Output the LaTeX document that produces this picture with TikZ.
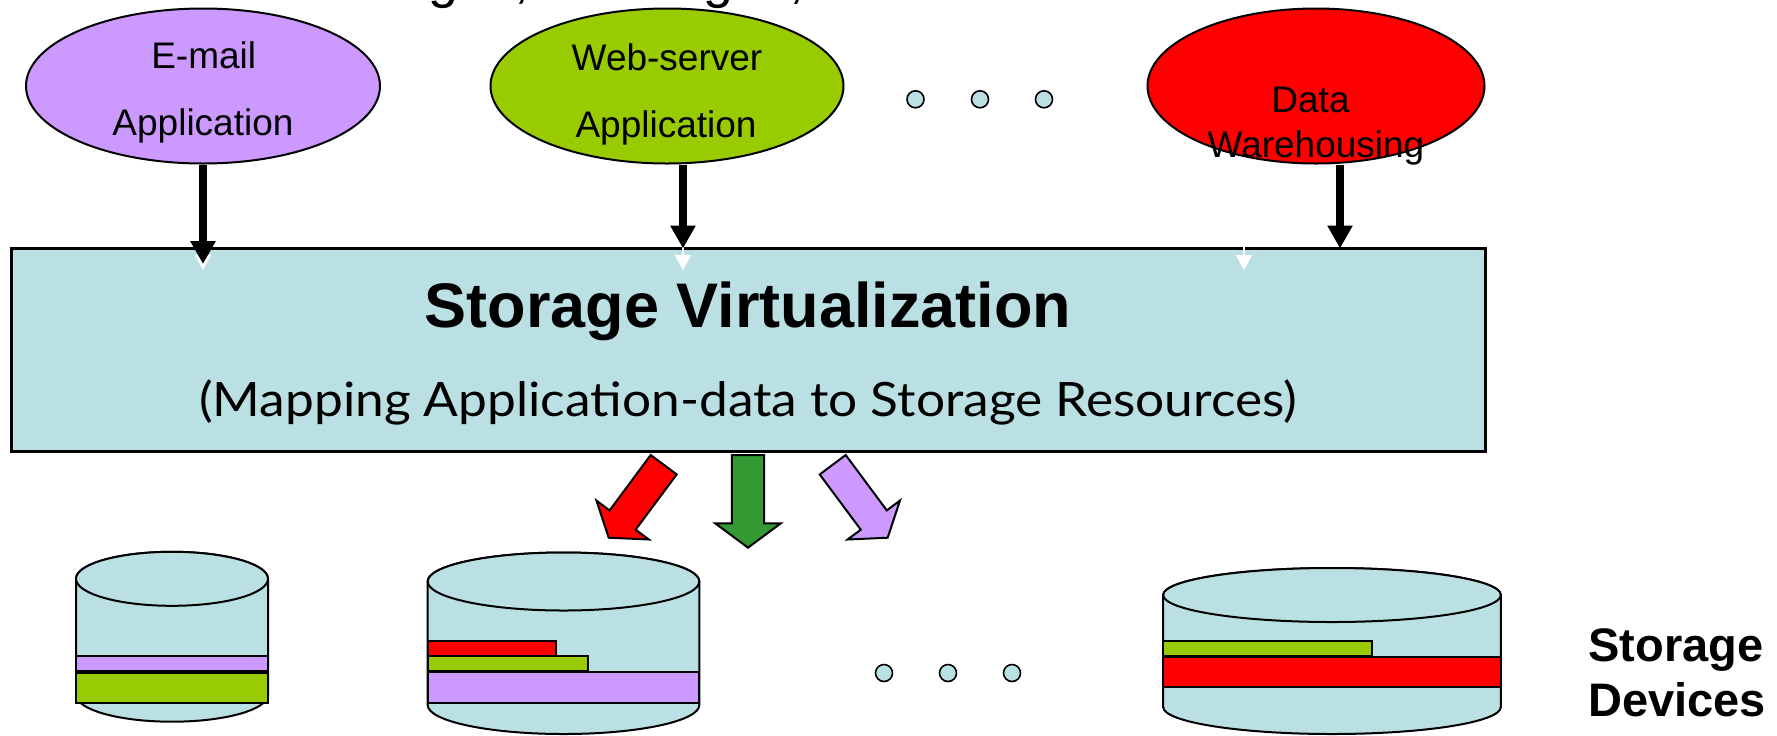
\documentclass[tikz,border=0pt]{standalone}
\usepackage{fontspec}
\usepackage{graphicx}
\setmainfont{Liberation Sans}
\newfontfamily\handfont{Lato}
\usetikzlibrary{shapes.geometric,arrows.meta}

\definecolor{lav}{HTML}{CC99FF}
\definecolor{lime}{HTML}{99CC00}
\definecolor{appred}{HTML}{FF0000}
\definecolor{pale}{HTML}{BBE0E3}
\definecolor{darkgr}{HTML}{339933}

% storage drum: centre x, x radius, top y, bottom y, y radius
\newcommand\drumbody[5]{%
  \filldraw[drum] ({#1-#2},#3) -- ({#1-#2},#4)
    arc[start angle=180,end angle=0,x radius=#2,y radius=#5]
    -- ({#1+#2},#3)
    arc[start angle=0,end angle=-180,x radius=#2,y radius=#5] -- cycle;
  \draw[drum] (#1,#3) ellipse[x radius=#2,y radius=#5];
}

\begin{document}
\begin{tikzpicture}[x=0.5pt,y=-0.5pt,
  app/.style={ellipse, draw=black, line width=1pt, inner sep=0pt, minimum height=77.5pt},
  lbl/.style={anchor=base, inner sep=0pt, font=\fontsize{18.5}{22}\selectfont},
  feed/.style={line width=4pt, -{Triangle[width=12pt,length=11.5pt]}},
  ghost/.style={draw=white, line width=1pt, -{Triangle[width=8pt,length=7.5pt]}},
  band/.style={draw=black, line width=1pt},
  drum/.style={fill=pale, draw=black, line width=1pt},
  ellip/.style={circle, fill=pale, draw=black, line width=0.8pt, inner sep=0pt, minimum size=8.5pt},
  block/.style={draw=black, line width=1pt, line join=miter}
]
\useasboundingbox (0,0) rectangle (1777,735);
\clip (0,0) rectangle (1777,735);

% heading line, mostly above the page
\node[anchor=base west, inner sep=0pt, font=\fontsize{26.9}{30}\selectfont] (heading) at (338,-3) {Images, Messages, \dots};

% applications
\node[app, fill=lav, minimum width=177pt] (email) at (203,86) {};
\node[app, fill=lime, minimum width=176.5pt] (web) at (667,86) {};
\node[app, fill=appred, minimum width=168.5pt] (dw) at (1316,86) {};

\node[ellip] (u1) at (915.5,99.3) {};
\node[ellip] (u2) at (980,99.3) {};
\node[ellip] (u3) at (1044,99.3) {};

% virtualization layer
\node[draw=black, line width=1.5pt, fill=pale, minimum width=736.75pt, minimum height=101.7pt, inner sep=0pt] (virt) at (748.25,350) {};

% arrows into the layer
\coordinate (g1) at (203,270);
\coordinate (g2) at (683,270);
\coordinate (g3) at (1244,270);
\draw[ghost] (virt.north -| g1) -- (g1);
\draw[ghost] (virt.north -| g2) -- (g2);
\draw[ghost] (virt.north -| g3) -- (g3);

\coordinate (t1) at (203,264);
\coordinate (t2) at (683,248.5);
\coordinate (t3) at (1340,248.5);
\draw[feed] (email.south) -- (t1);
\draw[feed] (web.south -| t2) -- (t2);
\draw[feed] (dw.south -| t3) -- (t3);

% application labels
\node[lbl] (emailA) at (203.7,68) {E-mail};
\node[lbl] (emailB) at (203,135.5) {Application};
\node[lbl] (webA) at (667,70.5) {Web-server};
\node[lbl] (webB) at (666,137.5) {Application};
\node[lbl] (dwA) at (1310.5,112.5) {Data};
\node[lbl] (dwB) at (1316,157) {Warehousing};

\node[anchor=base, inner sep=0pt, font=\bfseries\fontsize{31.5}{36}\selectfont] (title) at (748,327) {Storage Virtualization};
\node[anchor=base, inner sep=0pt, font=\handfont\fontsize{23.7}{28}\selectfont] (sub) at (748,416.5) {\resizebox{549pt}{\height}{(Mapping Application-data to Storage Resources)}};

% mapping arrows
\draw[block, fill=appred] (676.7,474.4) -- (635.6,529.7) -- (648.9,539.5) -- (608.75,537.7) -- (596.4,500.5) -- (609.6,510.4) -- (650.7,455.0) -- cycle;
\draw[block, fill=darkgr] (764.1,455) -- (764.1,523.3) -- (780.8,523.3) -- (748,547.7) -- (715.2,523.3) -- (731.9,523.3) -- (731.9,455) -- cycle;
\draw[block, fill=lav] (819.7,474.4) -- (860.8,529.7) -- (847.5,539.5) -- (887.65,537.7) -- (900,500.5) -- (886.8,510.4) -- (845.7,455.0) -- cycle;

% storage devices
\drumbody{172}{96}{578.8}{694.7}{27}
\draw[band, fill=lav] (76,656) rectangle (268,671);
\draw[band, fill=lime] (76,672.5) rectangle (268,703);

\drumbody{563.5}{135.8}{581.5}{705}{29}
\draw[band, fill=appred] (427.7,640.7) rectangle (555.7,656);
\draw[band, fill=lime] (427.7,656) rectangle (588.4,670.7);
\draw[band, fill=lav] (427.7,671.7) rectangle (699.3,702.7);

\node[ellip] (v1) at (884,673) {};
\node[ellip] (v2) at (948,673) {};
\node[ellip] (v3) at (1012,673) {};

\drumbody{1332}{168.8}{595}{707}{27}
\draw[band, fill=lime] (1163.2,640.7) rectangle (1372,656);
\draw[band, fill=appred] (1163.2,656.7) rectangle (1500.8,687.3);

\node[anchor=base west, inner sep=0pt, font=\bfseries\fontsize{23.5}{28}\selectfont] (devA) at (1588,661) {Storage};
\node[anchor=base west, inner sep=0pt, font=\bfseries\fontsize{23.5}{28}\selectfont] (devB) at (1588,716.5) {Devices};
\end{tikzpicture}
\end{document}
